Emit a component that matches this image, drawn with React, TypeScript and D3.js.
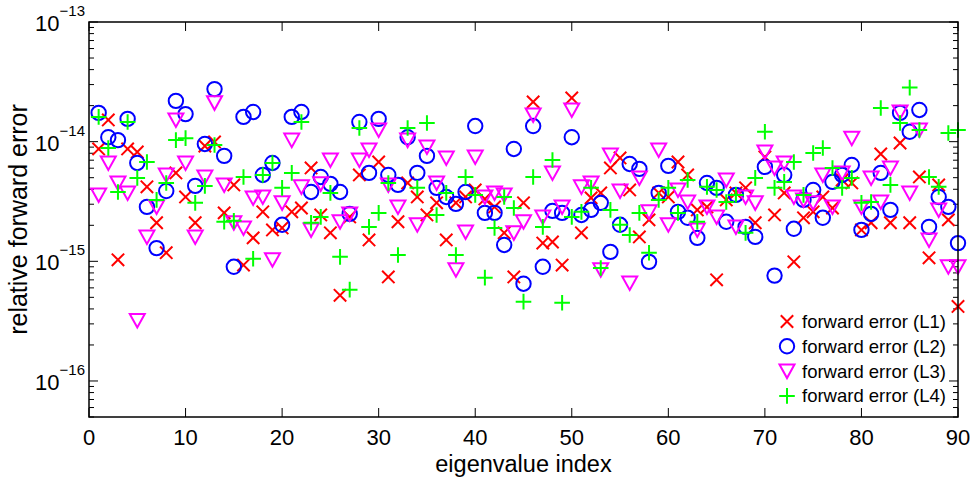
import React from 'react';
import * as d3 from 'd3';

// values in units of 1e-15
const UNIT = 1e-15;
const errL1 = [8.69, 15.2, 1.03, 8.69, 8.20, 4.19, 2.10, 1.18, 5.48, 3.45,
  2.10, 9.2, 9.95, 2.54, 4.35, 0.93, 1.57, 2.59, 1.83, 1.90,
  2.59, 2.79, 6.03, 2.44, 1.73, 0.52, 2.35, 5.27, 1.51, 6.76,
  0.74, 2.14, 4.52, 3.45, 2.44, 3.08, 1.51, 3.08, 3.45, 3.95,
  3.32, 2.85, 1.73, 0.74, 3.08, 21.5, 1.42, 1.45, 0.93, 23.2,
  1.73, 3.39, 3.73, 6.03, 7.31, 3.95, 1.60, 2.22, 3.73, 3.45,
  6.76, 5.27, 2.69, 2.85, 0.70, 3.26, 3.73, 4.11, 2.10, 7.45,
  2.44, 3.73, 0.99, 2.31, 2.59, 3.45, 2.79, 4.79, 4.52, 1.83,
  2.10, 7.89, 2.10, 9.75, 2.10, 5.07, 1.07, 4.35, 2.22, 0.42];
const errL2 = [17.4, 10.9, 10.3, 15.5, 6.64, 2.85, 1.29, 3.87, 21.9, 17.0,
  4.27, 9.57, 27.5, 7.60, 0.90, 16.1, 17.7, 5.27, 6.64, 2.02,
  16.1, 17.7, 3.80, 5.07, 4.44, 3.80, 2.49, 14.6, 5.48, 15.5,
  5.27, 4.35, 10.9, 5.48, 7.60, 4.11, 3.45, 3.02, 3.80, 13.5,
  2.54, 2.54, 1.37, 8.69, 0.65, 13.5, 0.90, 2.64, 2.54, 10.9,
  2.44, 2.69, 3.08, 1.20, 2.02, 6.51, 5.92, 0.99, 3.73, 6.27,
  2.59, 2.31, 1.57, 4.52, 4.11, 2.14, 3.59, 1.94, 1.60, 6.15,
  0.76, 5.27, 1.87, 3.26, 3.95, 2.31, 4.61, 5.27, 6.39, 1.83,
  2.49, 5.48, 2.69, 17.4, 12.1, 18.4, 1.94, 3.45, 2.85, 1.42];
const errL3 = [3.59, 6.64, 4.52, 3.73, 0.32, 1.60, 2.85, 5.27, 15.2, 6.64,
  1.60, 5.07, 21.1, 4.35, 2.10, 1.90, 3.39, 3.45, 1.03, 3.08,
  10.3, 4.19, 1.83, 4.44, 7.03, 2.14, 2.49, 7.03, 8.52, 12.5,
  4.35, 2.85, 10.3, 2.02, 9.03, 4.52, 7.31, 0.85, 1.76, 7.45,
  3.45, 3.73, 3.59, 1.73, 2.14, 16.7, 2.35, 5.48, 2.85, 18.4,
  4.19, 4.52, 0.85, 7.74, 3.87, 0.66, 4.98, 2.59, 8.52, 2.02,
  3.95, 3.13, 1.83, 2.85, 2.35, 4.79, 1.94, 3.45, 3.08, 8.20,
  6.03, 6.64, 3.45, 3.26, 3.08, 5.27, 2.85, 5.48, 10.7, 2.85,
  4.98, 3.13, 6.03, 17.7, 3.73, 12.5, 1.51, 2.69, 0.90, 0.90];
const errL4 = [16.1, 8.86, 3.80, 14.6, 4.98, 6.76, 3.26, 4.52, 10.3, 10.7,
  3.08, 4.27, 9.38, 2.14, 2.18, 5.07, 1.05, 5.27, 6.64, 4.11,
  5.48, 14.6, 2.10, 2.35, 3.73, 1.09, 0.58, 13.0, 1.94, 2.54,
  4.52, 1.13, 13.0, 4.11, 14.3, 2.44, 3.73, 1.13, 5.07, 3.59,
  0.73, 1.90, 3.45, 2.79, 0.46, 5.07, 1.94, 7.03, 0.45, 2.35,
  2.59, 4.11, 0.88, 2.69, 2.02, 1.66, 2.54, 1.18, 3.26, 4.11,
  2.54, 4.79, 2.14, 4.19, 3.95, 3.13, 3.59, 1.73, 4.98, 12.1,
  4.11, 4.61, 6.76, 3.59, 8.05, 8.86, 6.03, 4.11, 4.98, 3.08,
  3.13, 19.1, 4.35, 14.3, 28.3, 12.5, 5.07, 4.19, 11.8, 12.5];

const seriesNames = ['forward error (L1)', 'forward error (L2)', 'forward error (L3)', 'forward error (L4)'];
const seriesColors = ['#ff0000', '#0000ff', '#ff00ff', '#00ff00'];
const seriesMarkers = ['x', 'o', 'v', '+'];
const xTicks = [0, 10, 20, 30, 40, 50, 60, 70, 80, 90];
const yDecades = [-16, -15, -14, -13];
const xDomain = [0, 90];
const yDomain = [5e-17, 1e-13];

const W = 971, H = 484;
const L = 89, R = 958, T = 22, B = 417;
const FONT = "'Liberation Sans', Arial, Helvetica, sans-serif";

function Marker({ kind, cx, cy, color }: { kind: string; cx: number; cy: number; color: string }) {
  const sw = 2;
  if (kind === 'x') {
    const s = 6.2;
    return <path d={`M${cx - s},${cy - s}L${cx + s},${cy + s}M${cx - s},${cy + s}L${cx + s},${cy - s}`} stroke={color} strokeWidth={sw} fill="none" />;
  }
  if (kind === 'o') {
    return <circle cx={cx} cy={cy} r={7.2} stroke={color} strokeWidth={sw} fill="none" />;
  }
  if (kind === 'v') {
    return <path d={`M${cx - 7.5},${cy - 6.5}L${cx + 7.5},${cy - 6.5}L${cx},${cy + 7}Z`} stroke={color} strokeWidth={sw} fill="none" strokeLinejoin="miter" />;
  }
  const s = 7.8;
  return <path d={`M${cx - s},${cy}L${cx + s},${cy}M${cx},${cy - s}L${cx},${cy + s}`} stroke={color} strokeWidth={sw} fill="none" />;
}

export default function App() {
  const x = d3.scaleLinear().domain(xDomain).range([L, R]);
  const y = d3.scaleLog().domain(yDomain).range([B, T]);
  const series = [errL1, errL2, errL3, errL4];

  const minor: number[] = [];
  for (let e = -17; e <= -14; e++) {
    for (let m = 2; m <= 9; m++) {
      const v = m * Math.pow(10, e);
      if (v >= yDomain[0] * 0.999 && v <= yDomain[1]) minor.push(v);
    }
  }

  return (
    <svg width={W} height={H} style={{ position: 'absolute', left: 0, top: 0, background: '#fff' }} fontFamily={FONT}>
      <rect x={0} y={0} width={W} height={H} fill="#fff" />
      {xTicks.map((t) => (
        <g key={'xt' + t}>
          <line x1={x(t)} x2={x(t)} y1={B} y2={B - 9} stroke="#000" strokeWidth={1} />
          <line x1={x(t)} x2={x(t)} y1={T} y2={T + 9} stroke="#000" strokeWidth={1} />
          <text x={x(t)} y={445} fontSize={22} textAnchor="middle" fill="#000">{t}</text>
        </g>
      ))}
      {yDecades.map((d) => {
        const yy = y(Math.pow(10, d));
        return (
          <g key={'yd' + d}>
            <line x1={L} x2={L + 9} y1={yy} y2={yy} stroke="#000" strokeWidth={1} />
            <line x1={R} x2={R - 9} y1={yy} y2={yy} stroke="#000" strokeWidth={1} />
            <text x={85} y={yy + 9} fontSize={22} textAnchor="end" fill="#000">
              <tspan>10</tspan>
              <tspan fontSize={15} dy={-15}>{'\u2212' + String(-d)}</tspan>
            </text>
          </g>
        );
      })}
      {minor.map((v, i) => (
        <g key={'mn' + i}>
          <line x1={L} x2={L + 5} y1={y(v)} y2={y(v)} stroke="#000" strokeWidth={1} />
          <line x1={R} x2={R - 5} y1={y(v)} y2={y(v)} stroke="#000" strokeWidth={1} />
        </g>
      ))}
      {series.map((s, si) => (
        <g key={'s' + si}>
          {s.map((v, i) => (
            <Marker key={i} kind={seriesMarkers[si]} cx={x(i + 1)} cy={y(v * UNIT)} color={seriesColors[si]} />
          ))}
        </g>
      ))}
      <rect x={L} y={T} width={R - L} height={B - T} fill="none" stroke="#000" strokeWidth={1.5} />
      <text x={(L + R) / 2} y={472} fontSize={23.5} textAnchor="middle" fill="#000">eigenvalue index</text>
      <text transform={`translate(27,${(T + B) / 2}) rotate(-90)`} fontSize={25} textAnchor="middle" fill="#000">relative forward error</text>
      {seriesNames.map((n, i) => {
        const ly = 321.5 + i * 24.8;
        return (
          <g key={'lg' + i}>
            <Marker kind={seriesMarkers[i]} cx={787} cy={ly} color={seriesColors[i]} />
            <text x={802} y={ly + 6.5} fontSize={18.5} fill="#000">{n}</text>
          </g>
        );
      })}
    </svg>
  );
}
